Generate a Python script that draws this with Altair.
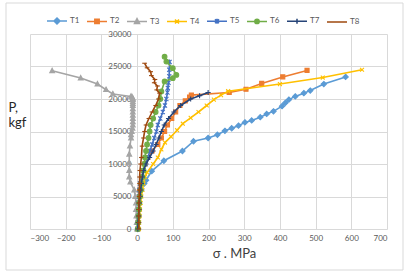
import altair as alt
import pandas as pd

series = ["T1", "T2", "T3", "T4", "T5", "T6", "T7", "T8"]
colors = ["#5B9BD5", "#ED7D31", "#A5A5A5", "#FFC000", "#4472C4", "#70AD47", "#264478", "#9E480E"]

T1_s = [2, 3, 4, 5, 6, 8, 12, 20, 25, 41, 75, 127, 158, 199, 225, 246, 265, 284, 302, 321, 345, 363, 382, 406, 415, 425, 443, 467, 485, 523, 584]
T1_p = [0, 1000, 2000, 3000, 4000, 5000, 6000, 7000, 7500, 8900, 10500, 12000, 13500, 14000, 14500, 15100, 15500, 15900, 16400, 16700, 17200, 17700, 18100, 18900, 19400, 19900, 20400, 20900, 21300, 22300, 23400]

T2_s = [2, 3, 4, 5, 6, 7, 8, 10, 13, 17, 22, 30, 42, 58, 68, 77, 85, 97, 108, 120, 135, 147, 152, 258, 305, 349, 408, 476]
T2_p = [0, 1000, 2000, 3000, 4000, 5000, 6000, 7000, 8000, 9000, 10000, 11000, 12000, 13000, 14000, 15000, 16000, 17000, 18000, 19000, 19700, 20300, 20600, 21000, 21500, 22400, 23400, 24400]

T3_s = [0, -1, -2, -3, -3, -5, -8, -19, -22, -22, -22, -22, -20, -17, -17, -15, -13, -12, -12, -12, -12, -12, -12, -12, -12, -12, -12, -12, -14, -17, -68, -87, -111, -158, -238]
T3_p = [0, 1000, 2000, 3000, 4000, 5000, 6000, 7200, 8000, 9000, 10200, 11500, 12750, 14000, 14500, 15000, 15500, 16000, 16500, 17000, 17500, 18000, 18500, 19000, 19300, 19600, 19900, 20100, 20300, 20400, 20770, 21430, 22300, 23220, 24340]

T4_s = [5, 6, 7, 8, 10, 12, 15, 18, 22, 28, 45, 58, 68, 78, 95, 112, 128, 150, 172, 195, 215, 235, 255, 400, 520, 630]
T4_p = [0, 1000, 2000, 3000, 4000, 5000, 6000, 7000, 8000, 8700, 10000, 11000, 12250, 13300, 14200, 15200, 16200, 17100, 18000, 19000, 19900, 20600, 21200, 22300, 23300, 24500]

T5_s = [1, 2, 3, 4, 4, 5, 6, 8, 12, 18, 24, 30, 36, 42, 48, 54, 58, 65, 72, 78, 82, 85, 86, 88, 90, 90, 91]
T5_p = [0, 1000, 2000, 3000, 4000, 5000, 6000, 7000, 8000, 9000, 10000, 11000, 12000, 13000, 14000, 15000, 16000, 17000, 18000, 19000, 20000, 21000, 21700, 22500, 23500, 24500, 25700]

T6_s = [2, 3, 4, 5, 6, 8, 10, 12, 15, 18, 20, 22, 25, 28, 32, 35, 38, 45, 52, 60, 65, 68, 77, 100, 110, 100, 82, 77]
T6_p = [0, 1000, 2000, 3000, 4000, 5000, 6000, 7000, 8000, 9000, 10000, 11000, 12000, 13000, 14000, 15000, 16000, 17000, 18000, 19000, 20000, 21170, 22700, 23200, 23700, 24750, 25760, 26500]

T7_s = [2, 3, 4, 5, 6, 8, 10, 12, 15, 18, 25, 35, 45, 53, 61, 68, 76, 88, 103, 122, 150, 175, 199]
T7_p = [0, 1000, 2000, 3000, 4000, 5000, 6000, 7000, 8000, 9000, 10000, 11000, 12000, 13000, 14000, 15000, 16000, 17000, 18000, 19000, 20000, 20500, 21000]

T8_s = [5, 5, 5, 5, 5, 6, 6, 7, 7, 8, 10, 12, 14, 18, 21, 25, 33, 42, 52, 60, 63, 55, 57, 48, 50, 40, 38, 28, 21]
T8_p = [0, 1000, 2000, 3000, 4000, 5000, 6000, 7000, 8000, 9000, 10000, 11000, 12750, 14000, 15000, 16000, 17000, 18000, 19000, 20000, 20900, 21400, 22000, 22500, 23000, 23600, 24200, 24800, 25500]

x_ticks = [-300, -200, -100, 0, 100, 200, 300, 400, 500, 600, 700]
y_ticks = [0, 5000, 10000, 15000, 20000, 25000, 30000]

sig = [T1_s, T2_s, T3_s, T4_s, T5_s, T6_s, T7_s, T8_s]
loads = [T1_p, T2_p, T3_p, T4_p, T5_p, T6_p, T7_p, T8_p]

rows = []
for name, s_list, p_list in zip(series, sig, loads):
    for i, (a, b) in enumerate(zip(s_list, p_list)):
        rows.append({"series": name, "sigma": a, "P": b, "i": i})
df = pd.DataFrame(rows)

# marker shapes (plot)
marker_paths = [
    "M0,-1L1,0L0,1L-1,0Z",
    "M-0.8,-0.8L0.8,-0.8L0.8,0.8L-0.8,0.8Z",
    "M0,-1L0.9,0.7L-0.9,0.7Z",
    "M-0.8,-0.8L0.8,0.8M-0.8,0.8L0.8,-0.8",
    "M-0.8,-0.8L0.8,0.8M-0.8,0.8L0.8,-0.8M0,-1L0,1",
    "circle",
    "M-1,0L1,0M0,-1L0,1",
    "M-1,0L1,0",
]
marker_sizes = [28, 26, 28, 24, 26, 22, 26, 22]

# legend symbols: line segment + marker
legend_paths = [
    "M-1,0L1,0M0,-0.3L0.3,0L0,0.3L-0.3,0Z",
    "M-1,0L1,0M-0.22,-0.22L0.22,-0.22L0.22,0.22L-0.22,0.22Z",
    "M-1,0L1,0M0,-0.28L0.25,0.2L-0.25,0.2Z",
    "M-1,0L1,0M-0.2,-0.2L0.2,0.2M-0.2,0.2L0.2,-0.2",
    "M-1,0L1,0M-0.2,-0.2L0.2,0.2M-0.2,0.2L0.2,-0.2M0,-0.25L0,0.25",
    "M-1,0L1,0M0.22,0A0.22,0.22,0,1,1,-0.22,0A0.22,0.22,0,1,1,0.22,0Z",
    "M-1,0L1,0M0,-0.25L0,0.25",
    "M-1,0L1,0",
]

W, H = 357, 195
GRID = "#D9D9D9"
FONT = "Lato"

x_enc = alt.X(
    "sigma:Q",
    scale=alt.Scale(domain=[-300, 700], nice=False, zero=False),
    axis=alt.Axis(
        values=x_ticks, grid=True, gridColor=GRID, domain=False, ticks=False,
        labelFontSize=8, labelColor="#595959", labelPadding=5, labelFont=FONT,
        title="σ   . MPa", titleX=204, titleY=24, titleBaseline="middle",
        titleAlign="center", titleFontSize=13, titleFontWeight="normal",
        titleColor="#404040", titleFont=FONT,
    ),
)
y_enc = alt.Y(
    "P:Q",
    scale=alt.Scale(domain=[0, 30000], nice=False),
    axis=alt.Axis(
        values=y_ticks, grid=True, gridColor=GRID, domain=False, ticks=False,
        offset=-107, labelPadding=6, labelFontSize=8, labelColor="#595959",
        labelFont=FONT, format="d",
        title=["P,", "kgf"], titleAngle=0, titleX=-129, titleY=67,
        titleAlign="left", titleBaseline="top", titleLineHeight=15,
        titleFontSize=13, titleFontWeight="normal", titleColor="#262626",
        titleFont=FONT,
    ),
)

frame = alt.Chart(pd.DataFrame({"a": [0]})).mark_rect(
    fill="white", fillOpacity=0, stroke=GRID, strokeWidth=1
).encode(
    x=alt.value(-24), x2=alt.value(373), y=alt.value(-31), y2=alt.value(236)
)

layers = [frame]
for k, name in enumerate(series):
    c = colors[k]
    base = alt.Chart(df).transform_filter(alt.datum.series == name)
    line = base.mark_line(color=c, strokeWidth=1.6).encode(
        x=x_enc, y=y_enc, order=alt.Order("i:Q")
    )
    pts = base.mark_point(
        shape=marker_paths[k], size=marker_sizes[k], filled=True,
        fill=c, stroke=c, strokeWidth=1.1, opacity=1,
    ).encode(x=x_enc, y=y_enc)
    layers += [line, pts]

leg = alt.Legend(
    title=None, orient="none", legendX=16, legendY=-24, direction="horizontal",
    symbolSize=400, symbolStrokeWidth=1.5, labelFontSize=8, labelColor="#595959",
    labelFont=FONT, labelOffset=2, columnPadding=4, padding=0, symbolOpacity=1,
)
legend_layer = alt.Chart(df).transform_filter("false").mark_point(
    filled=True, opacity=1, strokeWidth=1.5
).encode(
    fill=alt.Fill("series:N", scale=alt.Scale(domain=series, range=colors), legend=leg),
    stroke=alt.Stroke("series:N", scale=alt.Scale(domain=series, range=colors), legend=leg),
    shape=alt.Shape("series:N", scale=alt.Scale(domain=series, range=legend_paths), legend=leg),
)
layers.append(legend_layer)

chart = alt.layer(*layers).properties(
    width=W, height=H,
    autosize=alt.AutoSizeParams(type="none"),
    padding={"left": 30, "top": 34, "right": 24, "bottom": 49},
    background="white",
).configure_view(stroke=None)

chart.save("out.html", embed_options={"renderer": "svg", "actions": False})
